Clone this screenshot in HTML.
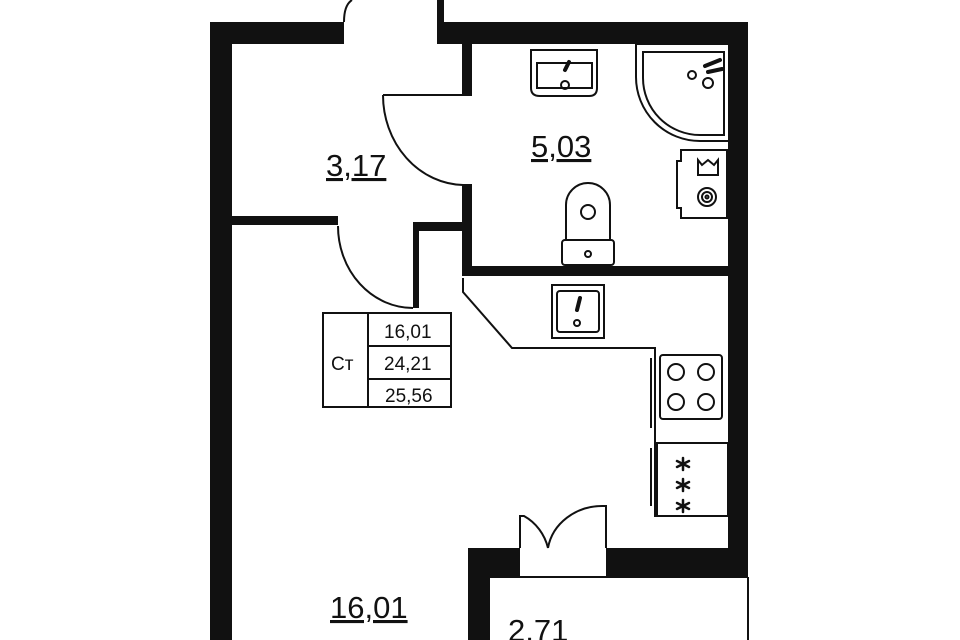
<!DOCTYPE html>
<html><head><meta charset="utf-8"><style>
html,body{margin:0;padding:0;background:#fff;width:960px;height:640px;overflow:hidden}
svg{display:block}
text{font-family:"Liberation Sans",sans-serif;fill:#111}
</style></head><body>
<svg width="960" height="640" viewBox="0 0 960 640" xmlns="http://www.w3.org/2000/svg">
<g fill="#111" stroke="none">
 <rect x="210" y="22" width="22" height="618"/>
 <rect x="210" y="22" width="134" height="22"/>
 <rect x="437" y="0" width="7" height="40"/>
 <rect x="437" y="22" width="311" height="22"/>
 <rect x="728" y="22" width="20" height="555"/>
 <rect x="462" y="44" width="10" height="52"/>
 <rect x="462" y="184" width="10" height="92"/>
 <rect x="462" y="266" width="268" height="10"/>
 <rect x="232" y="216" width="106" height="9"/>
 <rect x="413" y="222" width="59" height="9"/>
 <rect x="413" y="222" width="6" height="86"/>
 <rect x="468" y="548" width="52" height="29"/>
 <rect x="468" y="548" width="22" height="92"/>
 <rect x="606" y="548" width="142" height="29"/>
</g>
<g fill="none" stroke="#111" stroke-width="2">
 <path d="M344 22 Q344 5 352 0"/>
 <line x1="383" y1="95" x2="463" y2="95"/>
 <path d="M383 95 A82 90 0 0 0 463 185"/>
 <path d="M338 226 A75 82 0 0 0 413 308"/>
 <path d="M520 548 V516 H524 A48 50 0 0 1 548 548"/>
 <path d="M606 548 V506 H603 A55 50 0 0 0 548 548"/>
 <line x1="490" y1="577" x2="748" y2="577"/>
 <line x1="748" y1="577" x2="748" y2="640"/>
 <path d="M463 278 L463 292 L512 348 L655 348 L655 516 L728 516"/>
 <line x1="651" y1="358" x2="651" y2="428"/>
 <line x1="651" y1="448" x2="651" y2="506"/>
 <rect x="660" y="355" width="62" height="64" rx="3"/>
 <circle cx="676" cy="372" r="8"/><circle cx="706" cy="372" r="8"/>
 <circle cx="676" cy="402" r="8"/><circle cx="706" cy="402" r="8"/>
 <rect x="657" y="443" width="71" height="73"/>
 <rect x="552" y="285" width="52" height="53"/>
 <rect x="557" y="291" width="42" height="41" rx="3"/>
 <circle cx="577" cy="323" r="3"/>
 <path d="M531 50 H597 V88 Q597 96 589 96 H540 Q531 96 531 88 Z"/>
 <path d="M537 63 H592 V88 H537 Z"/>
 <circle cx="565" cy="85" r="4"/>
 <path d="M636 44 H730 V141 H700 A64 64 0 0 1 636 77 Z"/>
 <path d="M643 52 H724 V135 H700 A57 57 0 0 1 643 78 Z"/>
 <circle cx="692" cy="75" r="4"/>
 <circle cx="708" cy="83" r="5"/>
 <path d="M681 150 H727 V218 H681 V208 H677 V161 H681 Z"/>
 <path d="M698 160 L702 165 L708 160 L714 165 L718 160 V175 H698 Z"/>
 <circle cx="707" cy="197" r="9"/><circle cx="707" cy="197" r="5"/><circle cx="707" cy="197" r="1.5"/>
 <path d="M566 240 V205 A22 22 0 0 1 610 205 V240 Z"/>
 <circle cx="588" cy="212" r="7"/>
 <rect x="562" y="240" width="52" height="25" rx="3"/>
 <circle cx="588" cy="254" r="3"/>
 <rect x="323" y="313" width="128" height="94"/>
 <line x1="368" y1="313" x2="368" y2="407"/>
 <line x1="368" y1="346" x2="451" y2="346"/>
 <line x1="368" y1="379" x2="451" y2="379"/>
</g>
<g stroke="#111" stroke-width="2.5" stroke-linecap="round">
 <path d="M683 458 v12 M677 461 l12 6 M677 467 l12 -6"/>
 <path d="M683 479 v12 M677 482 l12 6 M677 488 l12 -6"/>
 <path d="M683 500 v12 M677 503 l12 6 M677 509 l12 -6"/>
 <path d="M565 70 l4 -8" stroke-width="4"/>
 <path d="M577 310 l3 -12" stroke-width="4"/>
 <path d="M705 66 l15 -6 M708 72 l14 -3" stroke-width="4"/>
</g>
<g font-size="19">
 <text x="331" y="370">Ст</text>
 <text x="384" y="338">16,01</text>
 <text x="384" y="370">24,21</text>
 <text x="385" y="402">25,56</text>
</g>
<g font-size="31">
 <text x="326" y="176" text-decoration="underline">3,17</text>
 <text x="531" y="157" text-decoration="underline">5,03</text>
 <text x="330" y="618" text-decoration="underline">16,01</text>
 <text x="508" y="641" text-decoration="underline">2,71</text>
</g>
</svg>
</body></html>
